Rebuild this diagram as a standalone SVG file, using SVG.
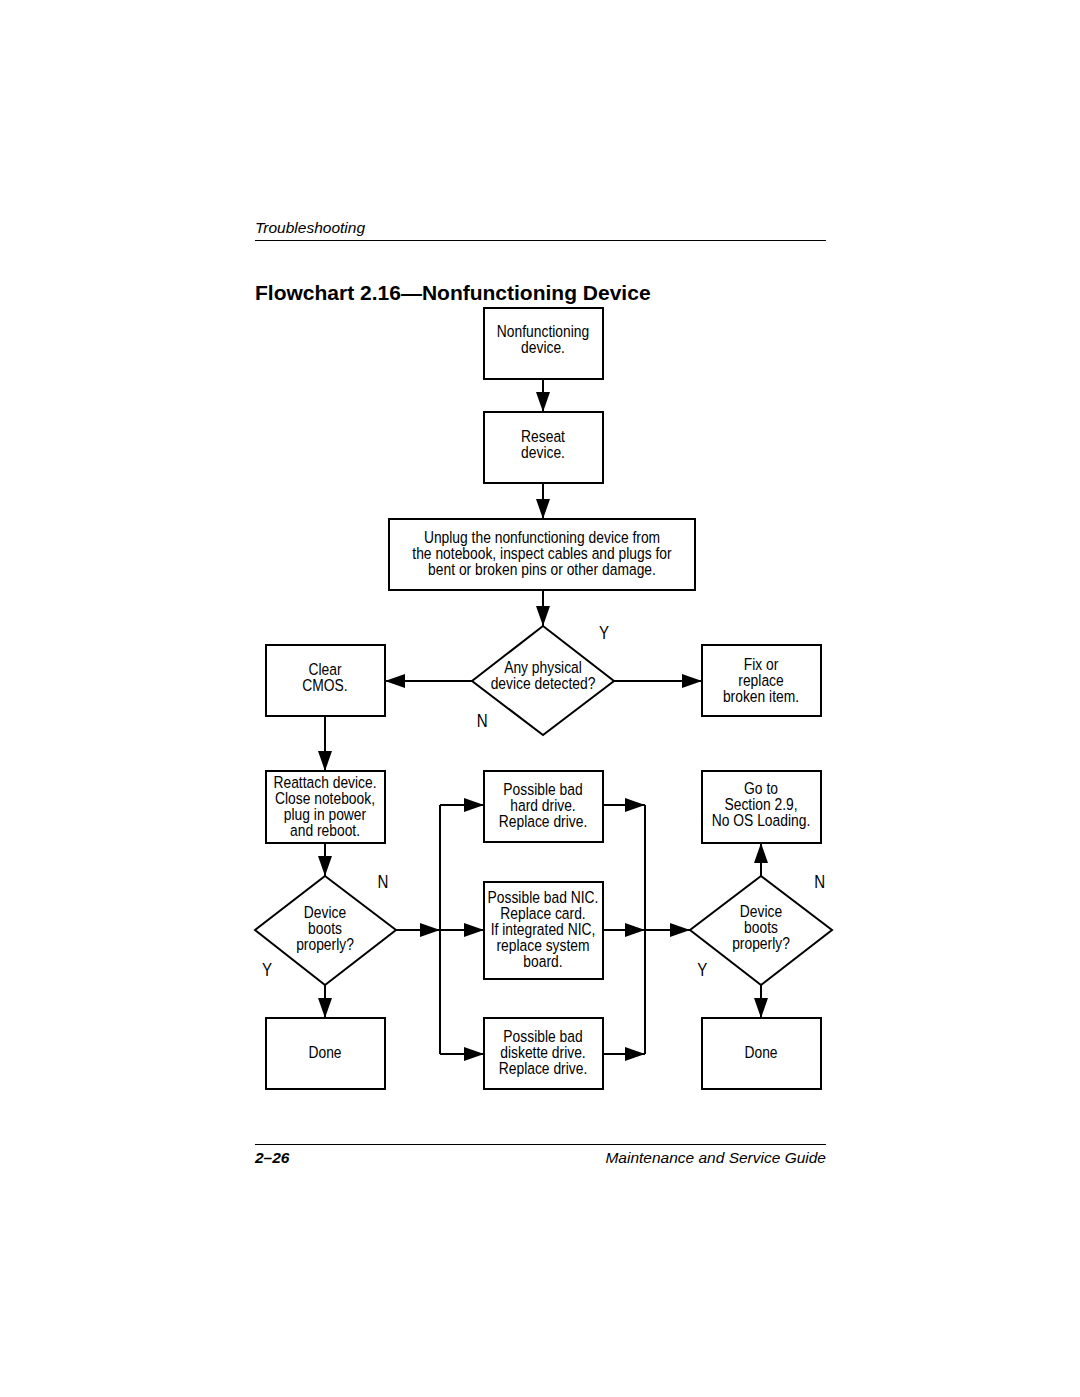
<svg xmlns="http://www.w3.org/2000/svg" width="1080" height="1397" viewBox="0 0 1080 1397">
<style>
.bg{fill:#fff}
.box{fill:#fff;stroke:#000;stroke-width:2}
.ln{fill:none;stroke:#000;stroke-width:2}
.arr{fill:none;stroke:#000;stroke-width:2;marker-end:url(#ah)}
.t{font-family:"Liberation Sans",Arial,sans-serif;font-size:16.5px;fill:#000;text-anchor:middle}
.yn{font-family:"Liberation Sans",Arial,sans-serif;font-size:18px;fill:#000;text-anchor:middle}
.hdr{font-family:"Liberation Sans",Arial,sans-serif;font-style:italic;font-size:15.5px;fill:#000}
.title{font-family:"Liberation Sans",Arial,sans-serif;font-weight:bold;font-size:21px;fill:#000}
</style>
<defs>
<marker id="ah" markerUnits="userSpaceOnUse" markerWidth="20" markerHeight="14" refX="20" refY="7" orient="auto">
<path d="M0,0 L20,7 L0,14 Z" fill="#000"/>
</marker>
</defs>
<rect class="bg" x="0" y="0" width="1080" height="1397"/>

<g id="header">
<text class="hdr" x="255" y="233">Troubleshooting</text>
<line x1="255" y1="240.5" x2="826" y2="240.5" stroke="#000" stroke-width="1.2"/>
<text class="title" x="255" y="300">Flowchart 2.16—Nonfunctioning Device</text>
</g>

<g id="connectors">
<line class="arr" x1="543" y1="379" x2="543" y2="412"/>
<line class="arr" x1="543" y1="483" x2="543" y2="519"/>
<line class="arr" x1="543" y1="590" x2="543" y2="626"/>
<line class="arr" x1="472" y1="681" x2="385" y2="681"/>
<line class="arr" x1="614" y1="681" x2="702" y2="681"/>
<line class="arr" x1="325" y1="716" x2="325" y2="771"/>
<line class="arr" x1="325" y1="843" x2="325" y2="876"/>
<line class="arr" x1="325" y1="985" x2="325" y2="1018"/>
<line class="arr" x1="396" y1="930" x2="440" y2="930"/>
<line class="ln" x1="440" y1="805" x2="440" y2="1054"/>
<line class="arr" x1="440" y1="805" x2="484" y2="805"/>
<line class="arr" x1="440" y1="930" x2="484" y2="930"/>
<line class="arr" x1="440" y1="1054" x2="484" y2="1054"/>
<line class="arr" x1="603" y1="805" x2="645" y2="805"/>
<line class="arr" x1="603" y1="930" x2="645" y2="930"/>
<line class="arr" x1="603" y1="1054" x2="645" y2="1054"/>
<line class="ln" x1="645" y1="805" x2="645" y2="1054"/>
<line class="arr" x1="645" y1="930" x2="690" y2="930"/>
<line class="arr" x1="761" y1="876" x2="761" y2="843"/>
<line class="arr" x1="761" y1="985" x2="761" y2="1018"/>
</g>

<g id="n-start">
<rect class="box" x="484" y="308" width="119" height="71"/>
<g transform="matrix(0.84,0,0,1,543,0)">
<text class="t" x="0" y="337">Nonfunctioning</text>
<text class="t" x="0" y="353">device.</text>
</g>
</g>
<g id="n-reseat">
<rect class="box" x="484" y="412" width="119" height="71"/>
<g transform="matrix(0.84,0,0,1,543,0)">
<text class="t" x="0" y="442">Reseat</text>
<text class="t" x="0" y="458">device.</text>
</g>
</g>
<g id="n-unplug">
<rect class="box" x="389" y="519" width="306" height="71"/>
<g transform="matrix(0.84,0,0,1,542,0)">
<text class="t" x="0" y="543">Unplug the nonfunctioning device from</text>
<text class="t" x="0" y="559">the notebook, inspect cables and plugs for</text>
<text class="t" x="0" y="575">bent or broken pins or other damage.</text>
</g>
</g>
<g id="n-physical">
<polygon class="box" points="543,626 614,681 543,735 472,681"/>
<g transform="matrix(0.84,0,0,1,543,0)">
<text class="t" x="0" y="673">Any physical</text>
<text class="t" x="0" y="689">device detected?</text>
</g>
<g transform="matrix(0.84,0,0,1,0,0)">
<text class="yn" x="719" y="639">Y</text>
<text class="yn" x="574" y="727">N</text>
</g>
</g>
<g id="n-clear">
<rect class="box" x="266" y="645" width="119" height="71"/>
<g transform="matrix(0.84,0,0,1,325,0)">
<text class="t" x="0" y="675">Clear</text>
<text class="t" x="0" y="691">CMOS.</text>
</g>
</g>
<g id="n-fix">
<rect class="box" x="702" y="645" width="119" height="71"/>
<g transform="matrix(0.84,0,0,1,761,0)">
<text class="t" x="0" y="670">Fix or</text>
<text class="t" x="0" y="686">replace</text>
<text class="t" x="0" y="702">broken item.</text>
</g>
</g>
<g id="n-reattach">
<rect class="box" x="266" y="771" width="119" height="72"/>
<g transform="matrix(0.84,0,0,1,325,0)">
<text class="t" x="0" y="788">Reattach device.</text>
<text class="t" x="0" y="804">Close notebook,</text>
<text class="t" x="0" y="820">plug in power</text>
<text class="t" x="0" y="836">and reboot.</text>
</g>
</g>
<g id="n-boots1">
<polygon class="box" points="325,876 396,930 325,985 255,930"/>
<g transform="matrix(0.84,0,0,1,325,0)">
<text class="t" x="0" y="918">Device</text>
<text class="t" x="0" y="934">boots</text>
<text class="t" x="0" y="950">properly?</text>
</g>
<g transform="matrix(0.84,0,0,1,0,0)">
<text class="yn" x="456" y="888">N</text>
<text class="yn" x="318" y="976">Y</text>
</g>
</g>
<g id="n-done1">
<rect class="box" x="266" y="1018" width="119" height="71"/>
<g transform="matrix(0.84,0,0,1,325,0)">
<text class="t" x="0" y="1058">Done</text>
</g>
</g>
<g id="n-hdd">
<rect class="box" x="484" y="771" width="119" height="71"/>
<g transform="matrix(0.84,0,0,1,543,0)">
<text class="t" x="0" y="795">Possible bad</text>
<text class="t" x="0" y="811">hard drive.</text>
<text class="t" x="0" y="827">Replace drive.</text>
</g>
</g>
<g id="n-nic">
<rect class="box" x="484" y="882" width="119" height="97"/>
<g transform="matrix(0.84,0,0,1,543,0)">
<text class="t" x="0" y="903">Possible bad NIC.</text>
<text class="t" x="0" y="919">Replace card.</text>
<text class="t" x="0" y="935">If integrated NIC,</text>
<text class="t" x="0" y="951">replace system</text>
<text class="t" x="0" y="967">board.</text>
</g>
</g>
<g id="n-fdd">
<rect class="box" x="484" y="1018" width="119" height="71"/>
<g transform="matrix(0.84,0,0,1,543,0)">
<text class="t" x="0" y="1042">Possible bad</text>
<text class="t" x="0" y="1058">diskette drive.</text>
<text class="t" x="0" y="1074">Replace drive.</text>
</g>
</g>
<g id="n-goto">
<rect class="box" x="702" y="771" width="119" height="72"/>
<g transform="matrix(0.84,0,0,1,761,0)">
<text class="t" x="0" y="794">Go to</text>
<text class="t" x="0" y="810">Section 2.9,</text>
<text class="t" x="0" y="826">No OS Loading.</text>
</g>
</g>
<g id="n-boots2">
<polygon class="box" points="761,876 832,930 761,985 690,930"/>
<g transform="matrix(0.84,0,0,1,761,0)">
<text class="t" x="0" y="917">Device</text>
<text class="t" x="0" y="933">boots</text>
<text class="t" x="0" y="949">properly?</text>
</g>
<g transform="matrix(0.84,0,0,1,0,0)">
<text class="yn" x="976" y="888">N</text>
<text class="yn" x="836" y="976">Y</text>
</g>
</g>
<g id="n-done2">
<rect class="box" x="702" y="1018" width="119" height="71"/>
<g transform="matrix(0.84,0,0,1,761,0)">
<text class="t" x="0" y="1058">Done</text>
</g>
</g>

<g id="footer">
<line x1="255" y1="1144.5" x2="826" y2="1144.5" stroke="#000" stroke-width="1.2"/>
<text class="hdr" x="255" y="1163" font-weight="bold">2–26</text>
<text class="hdr" x="826" y="1163" text-anchor="end">Maintenance and Service Guide</text>
</g>
</svg>
